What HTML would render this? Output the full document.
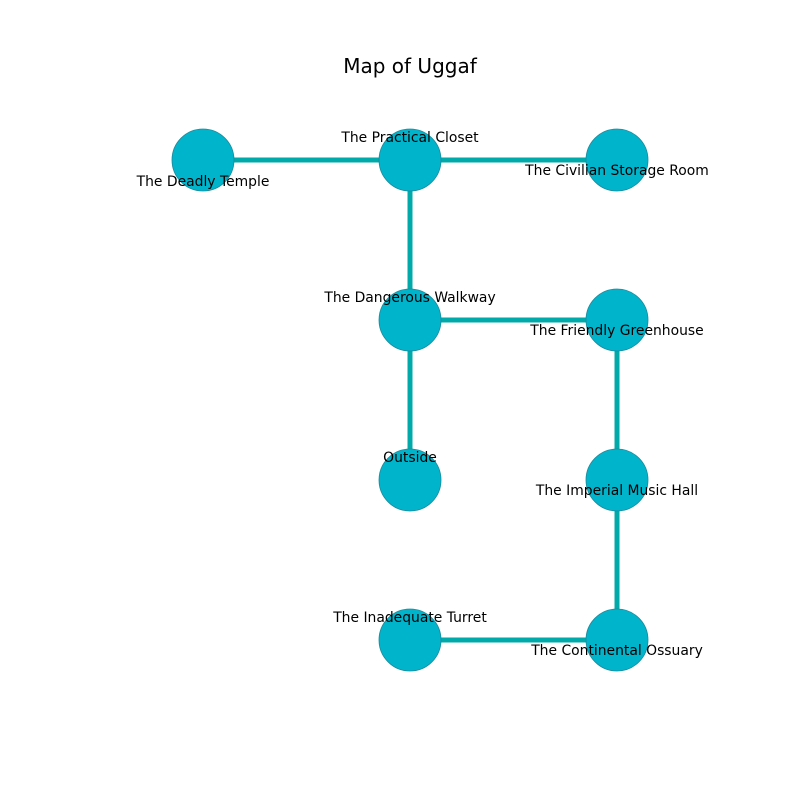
<!DOCTYPE html>
<html><head><style>html,body{margin:0;padding:0;background:#fff}</style></head><body>
<svg width="800" height="800" xmlns="http://www.w3.org/2000/svg" font-family="DejaVu Sans, Liberation Sans, sans-serif">
<rect width="800" height="800" fill="#fff"/>
<text x="410" y="73" font-size="20" text-anchor="middle" fill="#000">Map of Uggaf</text>
<g stroke="#00aaaa" stroke-width="5">
<line x1="203" y1="160" x2="617" y2="160"/>
<line x1="410" y1="160" x2="410" y2="480"/>
<line x1="410" y1="320" x2="617" y2="320"/>
<line x1="617" y1="320" x2="617" y2="640"/>
<line x1="410" y1="640" x2="617" y2="640"/>
</g>
<g fill="#00b4cc" stroke="#1a8a9a" stroke-width="0.8">
<circle cx="203" cy="160" r="31"/><circle cx="410" cy="160" r="31"/><circle cx="617" cy="160" r="31"/>
<circle cx="410" cy="320" r="31"/><circle cx="617" cy="320" r="31"/>
<circle cx="410" cy="480" r="31"/><circle cx="617" cy="480" r="31"/>
<circle cx="410" cy="640" r="31"/><circle cx="617" cy="640" r="31"/>
</g>
<g font-size="13.9" text-anchor="middle" fill="#000">
<text x="203" y="186">The Deadly Temple</text>
<text x="410" y="142">The Practical Closet</text>
<text x="617" y="175">The Civilian Storage Room</text>
<text x="410" y="302">The Dangerous Walkway</text>
<text x="617" y="335">The Friendly Greenhouse</text>
<text x="410" y="462">Outside</text>
<text x="617" y="495">The Imperial Music Hall</text>
<text x="410" y="622">The Inadequate Turret</text>
<text x="617" y="655">The Continental Ossuary</text>
</g>
</svg>
</body></html>
